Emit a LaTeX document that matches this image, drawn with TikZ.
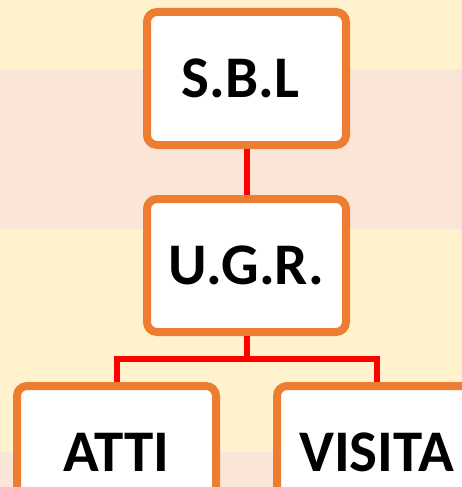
\documentclass[tikz,border=0pt]{standalone}
\usepackage{fontspec}
\setmainfont{Carlito}
\definecolor{bandY}{HTML}{FFF2CC}
\definecolor{bandP}{HTML}{FAE5D7}
\definecolor{boxO}{HTML}{ED7D31}
\definecolor{linkR}{HTML}{FF0000}
\tikzset{
  orgbox/.style={draw=boxO, line width=8pt, fill=white, rounded corners=10pt,
    minimum width=199pt, minimum height=133pt, inner sep=0pt,
    font=\fontsize{59}{59}\selectfont\bfseries, text=black},
  link/.style={draw=linkR, line width=6pt}
}
\begin{document}
\begin{tikzpicture}[x=1pt,y=-1pt]
\useasboundingbox (0,0) rectangle (462,487);
\clip (0,0) rectangle (462,487);
\fill[bandY] (0,0) rectangle (462,69);
\fill[bandP] (0,69) rectangle (462,229);
\fill[bandY] (0,229) rectangle (462,452);
\fill[bandP] (0,452) rectangle (462,487);
\node[orgbox] (sbl) at (246.5,78.5) {S.B.L\hspace*{12pt}};
\node[orgbox] (ugr) at (246.5,265.5) {U.G.R.};
\node[orgbox] (atti) at (116.5,452.5) {ATTI};
\node[orgbox] (visita) at (376.5,452.5) {VISITA};
\draw[link] (sbl.south) -- (ugr.north);
\draw[link] (ugr.south) -- ++(0,23) -| (atti.north);
\draw[link] (ugr.south) -- ++(0,23) -| (visita.north);
\end{tikzpicture}
\end{document}
